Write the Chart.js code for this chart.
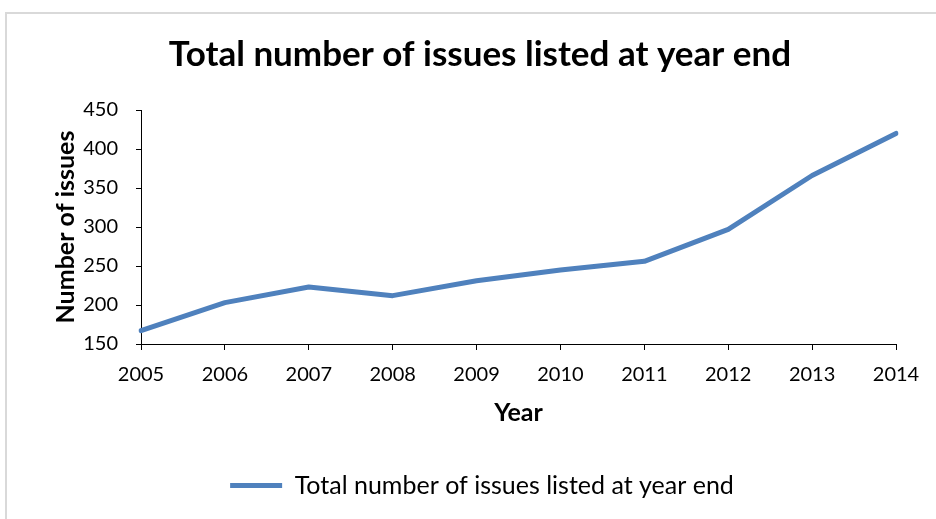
<!DOCTYPE html>
<html>
<head>
<meta charset="utf-8">
<script src="https://cdn.jsdelivr.net/npm/chart.js@4"></script>
<style>
    body { margin: 0; background: #fff; }
    #frame {
        position: absolute; left: 5px; top: 12px;
        width: 960px; height: 540px;
        border: 2px solid #d9d9d9;
    }
    #wrap { position: absolute; left: 0; top: 0; width: 936px; height: 519px; }
</style>
</head>
<body>
<div id="frame"></div>
<div id="wrap"><canvas id="issues-chart"></canvas></div>
<script>
// Year-end issue counts
const years = ['2005', '2006', '2007', '2008', '2009', '2010', '2011', '2012', '2013', '2014'];
const issueCounts = [167, 203, 223, 212, 231, 245, 256, 297, 366, 420];
const yTicks = [150, 200, 250, 300, 350, 400, 450];

const seriesName = 'Total number of issues listed at year end';
const lineColor = '#4f81bd';
const fontFamily = "Lato, 'Open Sans', sans-serif";

// title and legend sit centred on the whole frame, not the padded width
const shiftBlocks = {
    id: 'shiftBlocks',
    afterLayout(chart) {
        chart.titleBlock.left += 32;
        chart.titleBlock.right += 32;
        chart.legend.left += 34;
        chart.legend.right += 34;
    }
};

const ctx = document.getElementById('issues-chart').getContext('2d');

new Chart(ctx, {
    type: 'line',
    data: {
        labels: years,
        datasets: [{
            label: seriesName,
            data: issueCounts,
            borderColor: lineColor,
            backgroundColor: lineColor,
            borderWidth: 5,
            borderCapStyle: 'round',
            borderJoinStyle: 'round',
            pointRadius: 0,
            pointStyle: 'line',
            tension: 0
        }]
    },
    plugins: [shiftBlocks],
    options: {
        responsive: true,
        maintainAspectRatio: false,
        animation: false,
        layout: { padding: { left: 0, right: 40, top: 0, bottom: 11 } },
        plugins: {
            title: {
                display: true,
                text: seriesName,
                color: '#000',
                font: { family: fontFamily, size: 35, weight: 'bold' },
                padding: { top: 34, bottom: 34 }
            },
            legend: {
                position: 'bottom',
                labels: {
                    color: '#000',
                    font: { family: fontFamily, size: 25 },
                    usePointStyle: true,
                    pointStyleWidth: 52,
                    padding: 12
                }
            },
            tooltip: { enabled: false }
        },
        scales: {
            x: {
                type: 'category',
                offset: false,
                grid: {
                    display: true,
                    drawOnChartArea: false,
                    offset: false,
                    tickLength: 6,
                    color: '#000'
                },
                border: { color: '#000', width: 1 },
                ticks: {
                    color: '#000',
                    font: { family: fontFamily, size: 20 },
                    padding: 13,
                    maxRotation: 0
                },
                title: {
                    display: true,
                    text: 'Year',
                    color: '#000',
                    font: { family: fontFamily, size: 25, weight: 'bold' },
                    padding: { top: 0, bottom: 33 }
                },
                afterFit: scale => { scale.height = 117; }
            },
            y: {
                min: 150,
                max: 450,
                afterBuildTicks: scale => {
                    scale.ticks = yTicks.map(v => ({ value: v }));
                },
                grid: {
                    display: true,
                    drawOnChartArea: false,
                    tickLength: 5,
                    color: '#000'
                },
                border: { color: '#000', width: 1 },
                ticks: {
                    color: '#000',
                    font: { family: fontFamily, size: 20 },
                    padding: 18
                },
                title: {
                    display: true,
                    text: 'Number of issues',
                    color: '#000',
                    font: { family: fontFamily, size: 25, weight: 'bold' },
                    padding: { top: 51, bottom: 0 }
                },
                afterFit: scale => { scale.width = 141; }
            }
        }
    }
});
</script>
</body>
</html>
